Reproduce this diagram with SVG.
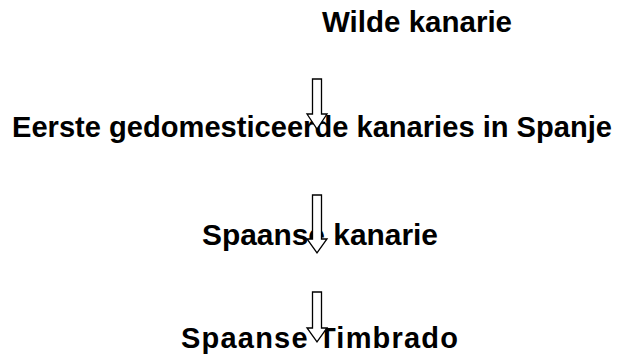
<svg xmlns="http://www.w3.org/2000/svg" width="619" height="358" viewBox="0 0 619 358">
<style>
.t{font-family:"Liberation Sans",Arial,sans-serif;font-weight:bold;font-size:29px;fill:#000}
.a{fill:#fff;stroke:#000;stroke-width:1.3}
</style>
<rect width="619" height="358" fill="#fff"/>
<g id="n1"><text class="t" x="322" y="32" textLength="190" lengthAdjust="spacingAndGlyphs">Wilde kanarie</text></g>
<g id="n2"><text class="t" x="12" y="137" textLength="600" lengthAdjust="spacingAndGlyphs">Eerste gedomesticeerde kanaries in Spanje</text></g>
<g id="n3"><text class="t" x="202" y="245" textLength="236" lengthAdjust="spacingAndGlyphs">Spaanse kanarie</text></g>
<g id="n4"><text class="t" x="181" y="348" textLength="277" lengthAdjust="spacing">Spaanse Timbrado</text></g>
<g id="connectors">
<path class="a" d="M312.5,79 H321.5 V114 H327 L317,129 L307,114 H312.5 Z"/>
<path class="a" d="M312.5,195 H321.5 V239 H327 L317,253 L307,239 H312.5 Z"/>
<path class="a" d="M312.5,292 H321.5 V328 H327 L317,342 L307,328 H312.5 Z"/>
</g>
</svg>
